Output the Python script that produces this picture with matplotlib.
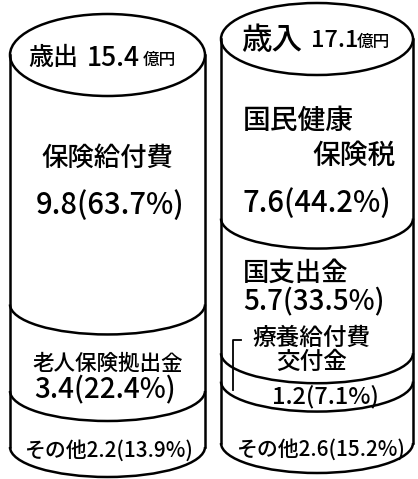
import matplotlib
matplotlib.use("Agg")
import matplotlib.pyplot as plt
from matplotlib.patches import Ellipse, Arc, Rectangle

plt.rcParams['font.family'] = ['Noto Sans CJK JP', 'DejaVu Sans']
plt.rcParams['font.weight'] = 'medium'

# 歳出 (expenditure) and 歳入 (revenue), 億円
out_total = 15.4
out_names = ['保険給付費', '老人保険拠出金', 'その他']
out_values = [9.8, 3.4, 2.2]
out_shares = [63.7, 22.4, 13.9]

in_total = 17.1
in_names = ['国民健康保険税', '国支出金', '療養給付費交付金', 'その他']
in_values = [7.6, 5.7, 1.2, 2.6]
in_shares = [44.2, 33.5, 7.1, 15.2]

fig = plt.figure(figsize=(4.18, 4.79), dpi=100)
ax = fig.add_axes([0, 0, 1, 1])
ax.set_xlim(0, 418)
ax.set_ylim(479, 0)
ax.axis('off')

LW = 1.8


def cylinder(x0, x1, top, bottom, top_b, arc_b, values):
    cx = (x0 + x1) / 2
    w = x1 - x0
    ax.add_patch(Rectangle((x0, top), w, bottom - top, fc='white', ec='none', zorder=0))
    ax.plot([x0, x0], [top, bottom], color='black', lw=LW)
    ax.plot([x1, x1], [top, bottom], color='black', lw=LW)
    ax.add_patch(Ellipse((cx, top), w, 2 * top_b, fc='white', ec='black', lw=LW))
    # separators follow the running total of the values
    total = sum(values)
    acc = 0
    ys = []
    for v in values:
        acc += v
        y = top + acc / total * (bottom - top)
        ys.append(y)
        ax.add_patch(Arc((cx, y), w, 2 * arc_b, theta1=0, theta2=180,
                         color='black', lw=LW))
    return ys


def lab(v, s):
    return f'{v}({s}%)'


out_y = cylinder(10, 205, 55, 447, 41, 30, out_values)
in_y = cylinder(221, 413, 39, 443, 36, 30, in_values)

kw = dict(va='center', color='black')

# left cylinder texts
ax.text(28, 58, '歳出', fontsize=18, ha='left', **kw)
ax.text(87, 58, f'{out_total}', fontsize=19, ha='left', **kw)
ax.text(143, 60, '億円', fontsize=12, ha='left', **kw)
ax.text(107, 158, out_names[0], fontsize=19, ha='center', **kw)
ax.text(110, 206, lab(out_values[0], out_shares[0]), fontsize=21, ha='center', **kw)
ax.text(108, 364, out_names[1], fontsize=15.5, ha='center', **kw)
ax.text(105, 390, lab(out_values[1], out_shares[1]), fontsize=20, ha='center', **kw)
ax.text(109, 451, out_names[2] + lab(out_values[2], out_shares[2]), fontsize=15,
        ha='center', **kw)

# right cylinder texts
ax.text(241, 40, '歳入', fontsize=22, ha='left', **kw)
ax.text(311, 40, f'{in_total}', fontsize=17, ha='left', **kw)
ax.text(357, 42, '億円', fontsize=12, ha='left', **kw)
ax.text(243, 120, in_names[0][:4], fontsize=20, ha='left', **kw)
ax.text(396, 155, in_names[0][4:], fontsize=20, ha='right', **kw)
ax.text(243, 203, lab(in_values[0], in_shares[0]), fontsize=21, ha='left', **kw)
ax.text(243, 273, in_names[1], fontsize=19, ha='left', **kw)
ax.text(243, 302, lab(in_values[1], in_shares[1]), fontsize=20, ha='left', **kw)
ax.text(311, 338, in_names[2][:5], fontsize=17, ha='center', **kw)
ax.text(312, 362, in_names[2][5:], fontsize=17, ha='center', **kw)
ax.text(325, (in_y[1] + in_y[2]) / 2 + 29, lab(in_values[2], in_shares[2]),
        fontsize=17, ha='center', **kw)
ax.text(321, 450, in_names[3] + lab(in_values[3], in_shares[3]), fontsize=15,
        ha='center', **kw)
ax.plot([241, 233, 233], [340, 340, 390], color='black', lw=1.3)

fig.savefig('out.png', dpi=100)
